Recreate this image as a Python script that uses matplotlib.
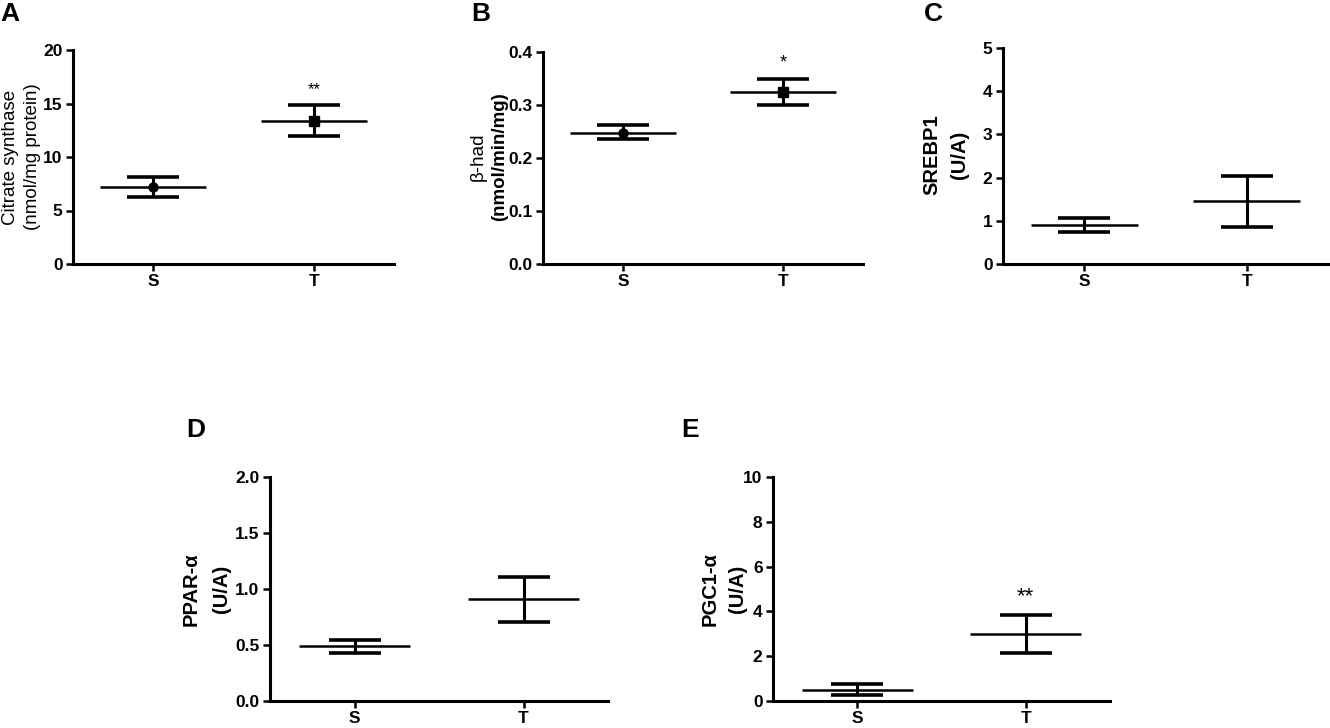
import matplotlib
matplotlib.use('Agg')
import matplotlib.pyplot as plt
import numpy as np

plt.rcParams['font.family'] = ['Liberation Sans', 'DejaVu Sans']

W, H = 1330, 728

groups = ['S', 'T']

# mean, upper and lower end of error bar per group
cs_mean = [7.2, 13.4]
cs_upper = [8.15, 14.85]
cs_lower = [6.25, 11.95]

bhad_mean = [0.248, 0.325]
bhad_upper = [0.262, 0.350]
bhad_lower = [0.235, 0.300]

srebp_mean = [0.90, 1.45]
srebp_upper = [1.06, 2.04]
srebp_lower = [0.73, 0.86]

ppar_mean = [0.49, 0.91]
ppar_upper = [0.545, 1.11]
ppar_lower = [0.43, 0.705]

pgc_mean = [0.50, 3.0]
pgc_upper = [0.75, 3.85]
pgc_lower = [0.25, 2.15]

fig = plt.figure(figsize=(W / 100, H / 100), dpi=100)


def px_axes(x0, y0, x1, y1):
    # pixel box (top-left origin) -> figure axes
    return fig.add_axes([x0 / W, 1 - y1 / H, (x1 - x0) / W, (y1 - y0) / H])


def px_text(x, y, s, **kw):
    fig.text(x / W, 1 - y / H, s, **kw)


def draw_panel(ax, mean, upper, lower, ymax, yticks, fmt, markers=None,
               stars=None, star_size=12):
    x = np.arange(len(groups))
    mean = np.array(mean)
    up = np.array(upper) - mean
    lo = mean - np.array(lower)
    ax.hlines(mean, x - 0.33, x + 0.33, color='black', lw=1.8, zorder=3)
    ax.errorbar(x, mean, yerr=[lo, up], fmt='none', ecolor='black',
                elinewidth=2.2, capsize=19, capthick=2.6, zorder=3)
    if markers:
        for xi, m, mk in zip(x, mean, markers):
            ax.plot(xi, m, marker=mk, color='black', markersize=6.5, zorder=4)
    if stars:
        for xi, u, s in zip(x, upper, stars):
            if s:
                ax.text(xi, u + ymax * 0.035, s, ha='center', va='bottom',
                        fontsize=star_size)
    ax.set_xlim(-0.5, 1.5)
    ax.set_ylim(0, ymax)
    ax.set_yticks(yticks)
    ax.set_yticklabels([fmt.format(t) for t in yticks])
    ax.set_xticks(x)
    ax.set_xticklabels(groups)
    for side in ['top', 'right']:
        ax.spines[side].set_visible(False)
    for side in ['left', 'bottom']:
        ax.spines[side].set_linewidth(2.2)
    ax.tick_params(axis='both', length=5, width=1.8, direction='out',
                   labelsize=12.5, pad=2.5)
    for lab in ax.get_xticklabels() + ax.get_yticklabels():
        lab.set_fontweight('bold')
    ax.patch.set_alpha(0)


# A
axA = px_axes(73, 50, 394, 264)
draw_panel(axA, cs_mean, cs_upper, cs_lower, 20, [0, 5, 10, 15, 20], '{:g}',
           markers=['o', 's'], stars=[None, '**'], star_size=12)
px_text(11, 157, 'Citrate synthase', rotation=90, ha='center', va='center', fontsize=13.5)
px_text(33, 157, '(nmol/mg protein)', rotation=90, ha='center', va='center', fontsize=13.5)
px_text(0, 2, 'A', fontsize=19, fontweight='bold', va='top')

# B
axB = px_axes(543, 52, 863, 264)
draw_panel(axB, bhad_mean, bhad_upper, bhad_lower, 0.4, [0, 0.1, 0.2, 0.3, 0.4], '{:.1f}',
           markers=['o', 's'], stars=[None, '*'], star_size=13)
px_text(478, 157, 'β-had', rotation=90, ha='center', va='center', fontsize=13.5)
px_text(500, 157, '(nmol/min/mg)', rotation=90, ha='center', va='center', fontsize=13.5,
        fontweight='bold')
px_text(471, 2, 'B', fontsize=19, fontweight='bold', va='top')

# C
axC = px_axes(1003, 48, 1328, 264)
draw_panel(axC, srebp_mean, srebp_upper, srebp_lower, 5, [0, 1, 2, 3, 4, 5], '{:g}')
px_text(932, 155, 'SREBP1', rotation=90, ha='center', va='center', fontsize=14.5,
        fontweight='bold')
px_text(960, 155, '(U/A)', rotation=90, ha='center', va='center', fontsize=14.5,
        fontweight='bold')
px_text(924, 2, 'C', fontsize=19, fontweight='bold', va='top')

# D
axD = px_axes(270, 477, 608, 701)
draw_panel(axD, ppar_mean, ppar_upper, ppar_lower, 2.0, [0, 0.5, 1.0, 1.5, 2.0], '{:.1f}')
px_text(191, 589, 'PPAR-α', rotation=90, ha='center', va='center', fontsize=14.5,
        fontweight='bold')
px_text(222, 589, '(U/A)', rotation=90, ha='center', va='center', fontsize=14.5,
        fontweight='bold')
px_text(186, 418, 'D', fontsize=19, fontweight='bold', va='top')

# E
axE = px_axes(773, 477, 1110, 701)
draw_panel(axE, pgc_mean, pgc_upper, pgc_lower, 10, [0, 2, 4, 6, 8, 10], '{:g}',
           stars=[None, '**'], star_size=16)
px_text(710, 589, 'PGC1-α', rotation=90, ha='center', va='center', fontsize=14.5,
        fontweight='bold')
px_text(737, 589, '(U/A)', rotation=90, ha='center', va='center', fontsize=14.5,
        fontweight='bold')
px_text(681, 418, 'E', fontsize=19, fontweight='bold', va='top')

fig.savefig('out.png', dpi=100)
